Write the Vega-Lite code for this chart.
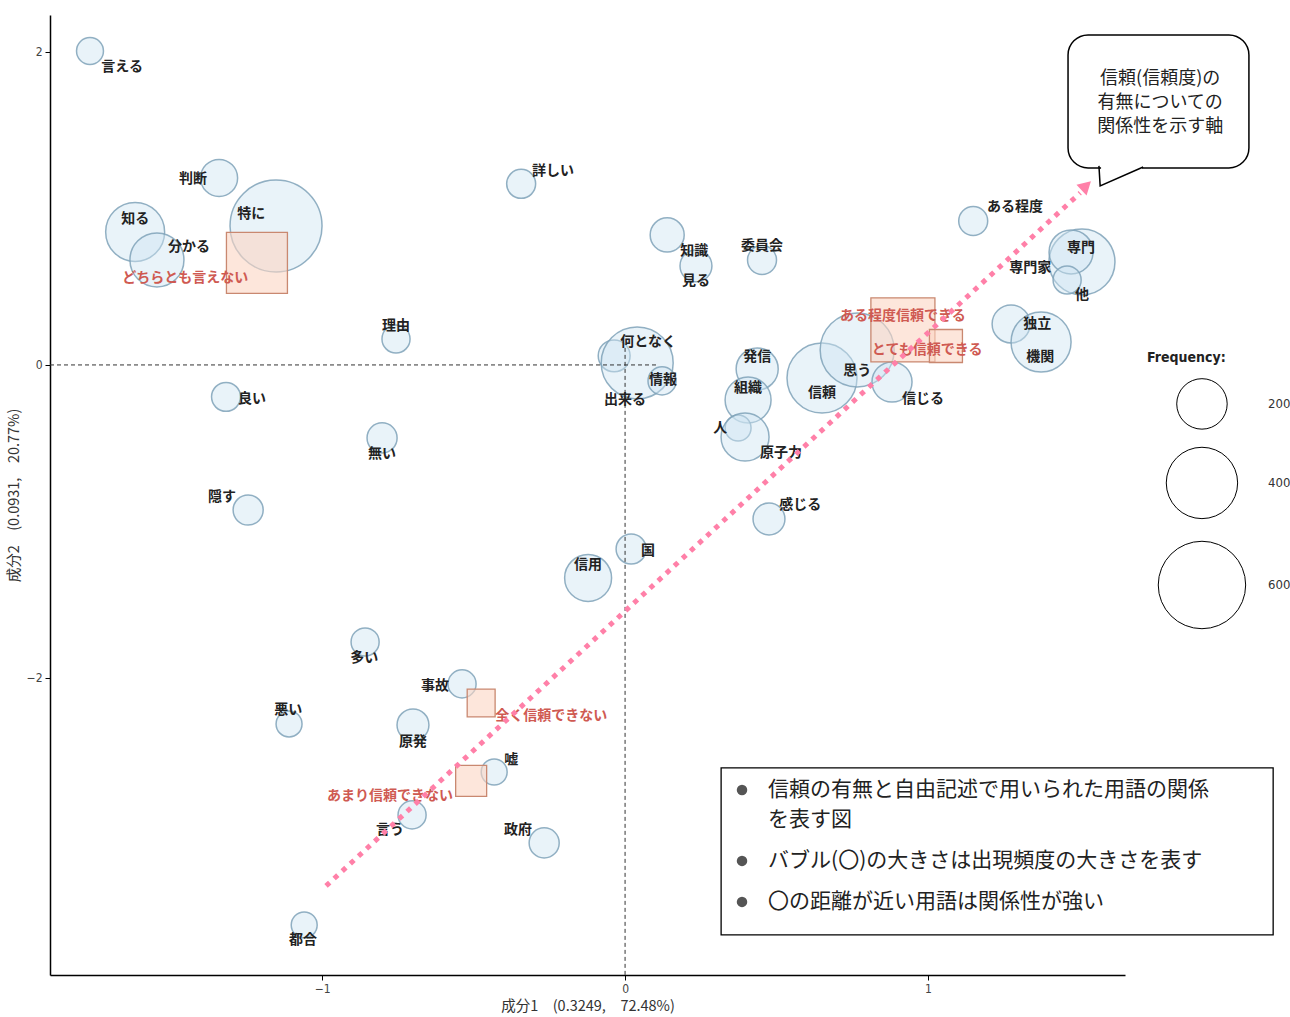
{
  "$schema": "https://vega.github.io/schema/vega-lite/v6.json",
  "width": 1075,
  "height": 960,
  "autosize": {"type": "none"},
  "padding": {"left": 50, "top": 15, "right": 165, "bottom": 42},
  "background": "white",
  "config": {
    "view": {"stroke": null},
    "font": "Noto Sans CJK JP",
    "axis": {
      "grid": false,
      "domainColor": "#000000",
      "domainWidth": 1.5,
      "tickColor": "#000000",
      "tickSize": 5,
      "labelFont": "DejaVu Sans Condensed",
      "labelFontSize": 12,
      "labelColor": "#444444",
      "titleFont": "Noto Sans CJK JP",
      "titleFontSize": 14.5,
      "titleFontWeight": "normal",
      "titleColor": "#333333"
    }
  },
  "datasets": {
    "words": [
      {"word": "言える", "x": -1.766, "y": 2.006, "freq": 57},
      {"word": "判断", "x": -1.340, "y": 1.195, "freq": 108},
      {"word": "特に", "x": -1.152, "y": 0.888, "freq": 665},
      {"word": "知る", "x": -1.617, "y": 0.850, "freq": 273},
      {"word": "分かる", "x": -1.545, "y": 0.671, "freq": 229},
      {"word": "詳しい", "x": -0.343, "y": 1.157, "freq": 66},
      {"word": "知識", "x": 0.139, "y": 0.831, "freq": 91},
      {"word": "見る", "x": 0.234, "y": 0.633, "freq": 80},
      {"word": "委員会", "x": 0.452, "y": 0.671, "freq": 66},
      {"word": "理由", "x": -0.756, "y": 0.166, "freq": 62},
      {"word": "何となく", "x": -0.036, "y": 0.058, "freq": 80},
      {"word": "出来る", "x": 0.040, "y": 0.013, "freq": 407},
      {"word": "情報", "x": 0.122, "y": -0.102, "freq": 62},
      {"word": "発信", "x": 0.436, "y": -0.026, "freq": 139},
      {"word": "組織", "x": 0.406, "y": -0.224, "freq": 166},
      {"word": "人", "x": 0.373, "y": -0.403, "freq": 53},
      {"word": "原子力", "x": 0.396, "y": -0.460, "freq": 181},
      {"word": "信頼", "x": 0.650, "y": -0.083, "freq": 385},
      {"word": "思う", "x": 0.766, "y": 0.096, "freq": 430},
      {"word": "信じる", "x": 0.881, "y": -0.109, "freq": 126},
      {"word": "ある程度", "x": 1.149, "y": 0.920, "freq": 66},
      {"word": "専門", "x": 1.508, "y": 0.658, "freq": 342},
      {"word": "専門家", "x": 1.472, "y": 0.722, "freq": 152},
      {"word": "他", "x": 1.459, "y": 0.543, "freq": 62},
      {"word": "独立", "x": 1.274, "y": 0.262, "freq": 113},
      {"word": "機関", "x": 1.373, "y": 0.147, "freq": 283},
      {"word": "良い", "x": -1.317, "y": -0.204, "freq": 66},
      {"word": "無い", "x": -0.802, "y": -0.466, "freq": 71},
      {"word": "隠す", "x": -1.244, "y": -0.927, "freq": 71},
      {"word": "多い", "x": -0.858, "y": -1.770, "freq": 62},
      {"word": "事故", "x": -0.538, "y": -2.038, "freq": 62},
      {"word": "悪い", "x": -1.109, "y": -2.294, "freq": 53},
      {"word": "原発", "x": -0.700, "y": -2.300, "freq": 80},
      {"word": "嘘", "x": -0.432, "y": -2.601, "freq": 53},
      {"word": "言う", "x": -0.703, "y": -2.875, "freq": 62},
      {"word": "政府", "x": -0.267, "y": -3.054, "freq": 71},
      {"word": "都合", "x": -1.059, "y": -3.578, "freq": 53},
      {"word": "信用", "x": -0.122, "y": -1.361, "freq": 173},
      {"word": "国", "x": 0.020, "y": -1.176, "freq": 71},
      {"word": "感じる", "x": 0.475, "y": -0.984, "freq": 80}
    ],
    "vars": [
      {"word": "どちらとも言えない", "x": -1.215, "y": 0.652, "freq": 372},
      {"word": "ある程度信頼できる", "x": 0.917, "y": 0.224, "freq": 410},
      {"word": "とても信頼できる", "x": 1.059, "y": 0.121, "freq": 109},
      {"word": "全く信頼できない", "x": -0.475, "y": -2.160, "freq": 78},
      {"word": "あまり信頼できない", "x": -0.508, "y": -2.658, "freq": 96}
    ],
    "labels": [
      {"word": "言える", "lx": -1.660, "ly": 1.904, "type": "word"},
      {"word": "判断", "lx": -1.426, "ly": 1.188, "type": "word"},
      {"word": "特に", "lx": -1.234, "ly": 0.965, "type": "word"},
      {"word": "知る", "lx": -1.617, "ly": 0.933, "type": "word"},
      {"word": "分かる", "lx": -1.439, "ly": 0.754, "type": "word"},
      {"word": "どちらとも言えない", "lx": -1.452, "ly": 0.556, "type": "var"},
      {"word": "詳しい", "lx": -0.238, "ly": 1.240, "type": "word"},
      {"word": "知識", "lx": 0.228, "ly": 0.728, "type": "word"},
      {"word": "見る", "lx": 0.234, "ly": 0.537, "type": "word"},
      {"word": "委員会", "lx": 0.452, "ly": 0.760, "type": "word"},
      {"word": "理由", "lx": -0.756, "ly": 0.249, "type": "word"},
      {"word": "何となく", "lx": 0.076, "ly": 0.147, "type": "word"},
      {"word": "出来る", "lx": 0.000, "ly": -0.224, "type": "word"},
      {"word": "情報", "lx": 0.125, "ly": -0.096, "type": "word"},
      {"word": "発信", "lx": 0.436, "ly": 0.051, "type": "word"},
      {"word": "組織", "lx": 0.406, "ly": -0.147, "type": "word"},
      {"word": "人", "lx": 0.314, "ly": -0.403, "type": "word"},
      {"word": "原子力", "lx": 0.515, "ly": -0.562, "type": "word"},
      {"word": "信頼", "lx": 0.650, "ly": -0.179, "type": "word"},
      {"word": "思う", "lx": 0.766, "ly": -0.038, "type": "word"},
      {"word": "信じる", "lx": 0.983, "ly": -0.217, "type": "word"},
      {"word": "ある程度", "lx": 1.287, "ly": 1.010, "type": "word"},
      {"word": "専門", "lx": 1.505, "ly": 0.748, "type": "word"},
      {"word": "専門家", "lx": 1.337, "ly": 0.620, "type": "word"},
      {"word": "他", "lx": 1.508, "ly": 0.447, "type": "word"},
      {"word": "独立", "lx": 1.360, "ly": 0.262, "type": "word"},
      {"word": "機関", "lx": 1.370, "ly": 0.051, "type": "word"},
      {"word": "ある程度信頼できる", "lx": 0.917, "ly": 0.313, "type": "var"},
      {"word": "とても信頼できる", "lx": 0.997, "ly": 0.096, "type": "var"},
      {"word": "良い", "lx": -1.231, "ly": -0.217, "type": "word"},
      {"word": "無い", "lx": -0.802, "ly": -0.569, "type": "word"},
      {"word": "隠す", "lx": -1.330, "ly": -0.843, "type": "word"},
      {"word": "多い", "lx": -0.861, "ly": -1.872, "type": "word"},
      {"word": "事故", "lx": -0.627, "ly": -2.051, "type": "word"},
      {"word": "悪い", "lx": -1.112, "ly": -2.204, "type": "word"},
      {"word": "原発", "lx": -0.700, "ly": -2.409, "type": "word"},
      {"word": "嘘", "lx": -0.376, "ly": -2.524, "type": "word"},
      {"word": "言う", "lx": -0.776, "ly": -2.971, "type": "word"},
      {"word": "政府", "lx": -0.353, "ly": -2.971, "type": "word"},
      {"word": "都合", "lx": -1.063, "ly": -3.674, "type": "word"},
      {"word": "信用", "lx": -0.122, "ly": -1.278, "type": "word"},
      {"word": "国", "lx": 0.076, "ly": -1.188, "type": "word"},
      {"word": "感じる", "lx": 0.578, "ly": -0.895, "type": "word"},
      {"word": "全く信頼できない", "lx": -0.244, "ly": -2.243, "type": "var"},
      {"word": "あまり信頼できない", "lx": -0.776, "ly": -2.754, "type": "var"}
    ],
    "legendItems": [
      {"freq": 200, "x": 1.904, "y": -0.249, "lx": 2.122, "label": "200"},
      {"freq": 400, "x": 1.904, "y": -0.754, "lx": 2.122, "label": "400"},
      {"freq": 600, "x": 1.904, "y": -1.406, "lx": 2.122, "label": "600"}
    ],
    "notes": [
      {"text": "信頼の有無と自由記述で用いられた用語の関係", "x": 0.472, "y": -2.716},
      {"text": "を表す図", "x": 0.472, "y": -2.907},
      {"text": "バブル(〇)の大きさは出現頻度の大きさを表す", "x": 0.472, "y": -3.169},
      {"text": "〇の距離が近い用語は関係性が強い", "x": 0.472, "y": -3.431}
    ],
    "bullets": [
      {"x": 0.386, "y": -2.716},
      {"x": 0.386, "y": -3.169},
      {"x": 0.386, "y": -3.431}
    ],
    "callout": [
      {"text": "信頼(信頼度)の", "x": 1.766, "y": 1.827},
      {"text": "有無についての", "x": 1.766, "y": 1.674},
      {"text": "関係性を示す軸", "x": 1.766, "y": 1.521}
    ]
  },
  "layer": [
    {
      "data": {"name": "words"},
      "mark": {"type": "point", "shape": "circle", "filled": true, "fill": "#cfe5f2", "fillOpacity": 0.45, "stroke": "#7fa2b8", "strokeWidth": 1.5, "strokeOpacity": 0.85},
      "encoding": {
        "x": {"field": "x", "type": "quantitative", "scale": {"domain": [-1.898, 1.65], "nice": false, "zero": false}, "axis": {"values": [-1, 0, 1], "format": "d", "title": "成分1　(0.3249,　72.48%)", "titlePadding": 5, "labelPadding": 3}},
        "y": {"field": "y", "type": "quantitative", "scale": {"domain": [-3.898, 2.236], "nice": false, "zero": false}, "axis": {"values": [-2, 0, 2], "format": "d", "title": "成分2　(0.0931,　20.77%)", "titlePadding": 5, "labelPadding": 3}},
        "size": {"field": "freq", "type": "quantitative", "scale": {"type": "linear", "domain": [0, 600], "range": [0, 7639], "zero": true}, "legend": null}
      }
    },
    {
      "data": {"values": [{"x": -1.898, "x2": 0.106, "y": 0, "y2": 0}, {"x": 0, "x2": 0, "y": 0.109, "y2": -3.898}]},
      "mark": {"type": "rule", "strokeDash": [4, 3], "color": "#333333", "strokeWidth": 1},
      "encoding": {
        "x": {"field": "x", "type": "quantitative", "scale": {"domain": [-1.898, 1.65], "nice": false, "zero": false}},
        "x2": {"field": "x2"},
        "y": {"field": "y", "type": "quantitative", "scale": {"domain": [-3.898, 2.236], "nice": false, "zero": false}},
        "y2": {"field": "y2"}
      }
    },
    {
      "data": {"name": "vars"},
      "mark": {"type": "point", "shape": "square", "filled": true, "fill": "#fbd5c3", "fillOpacity": 0.6, "stroke": "#c98870", "strokeWidth": 1.3},
      "encoding": {
        "x": {"field": "x", "type": "quantitative", "scale": {"domain": [-1.898, 1.65], "nice": false, "zero": false}},
        "y": {"field": "y", "type": "quantitative", "scale": {"domain": [-3.898, 2.236], "nice": false, "zero": false}},
        "size": {"field": "freq", "type": "quantitative", "scale": {"type": "linear", "domain": [0, 600], "range": [0, 6000], "zero": true}, "legend": null}
      }
    },
    {
      "data": {"name": "labels"},
      "mark": {"type": "text", "fontSize": 14, "font": "Noto Sans CJK JP", "fontWeight": "bold", "baseline": "middle", "align": "center"},
      "encoding": {
        "x": {"field": "lx", "type": "quantitative", "scale": {"domain": [-1.898, 1.65], "nice": false, "zero": false}},
        "y": {"field": "ly", "type": "quantitative", "scale": {"domain": [-3.898, 2.236], "nice": false, "zero": false}},
        "text": {"field": "word", "type": "nominal"},
        "color": {"field": "type", "type": "nominal", "scale": {"domain": ["word", "var"], "range": ["#222222", "#cf5a52"]}, "legend": null}
      }
    },
    {
      "data": {"name": "legendItems"},
      "mark": {"type": "point", "shape": "circle", "filled": false, "stroke": "#000000", "strokeWidth": 1, "opacity": 1},
      "encoding": {
        "x": {"field": "x", "type": "quantitative", "scale": {"domain": [-1.898, 1.65], "nice": false, "zero": false}},
        "y": {"field": "y", "type": "quantitative", "scale": {"domain": [-3.898, 2.236], "nice": false, "zero": false}},
        "size": {"field": "freq", "type": "quantitative", "scale": {"type": "linear", "domain": [0, 600], "range": [0, 7639], "zero": true}, "legend": null}
      }
    },
    {
      "data": {"name": "legendItems"},
      "mark": {"type": "text", "font": "DejaVu Sans Condensed", "fontSize": 13, "color": "#333333", "align": "left", "baseline": "middle"},
      "encoding": {
        "x": {"field": "lx", "type": "quantitative", "scale": {"domain": [-1.898, 1.65], "nice": false, "zero": false}},
        "y": {"field": "y", "type": "quantitative", "scale": {"domain": [-3.898, 2.236], "nice": false, "zero": false}},
        "text": {"field": "label", "type": "nominal"}
      }
    },
    {
      "data": {"values": [{"x": 1.723, "y": 0.045, "t": "Frequency:"}]},
      "mark": {"type": "text", "font": "DejaVu Sans Condensed", "fontSize": 14, "fontWeight": "bold", "color": "#222222", "align": "left", "baseline": "middle"},
      "encoding": {
        "x": {"field": "x", "type": "quantitative", "scale": {"domain": [-1.898, 1.65], "nice": false, "zero": false}},
        "y": {"field": "y", "type": "quantitative", "scale": {"domain": [-3.898, 2.236], "nice": false, "zero": false}},
        "text": {"field": "t", "type": "nominal"}
      }
    },
    {
      "data": {"values": [{"x": -0.987, "y": -3.329, "x2": 1.502, "y2": 1.099}]},
      "mark": {"type": "rule", "color": "#ff80a8", "strokeWidth": 5, "strokeDash": [5, 6], "strokeCap": "butt"},
      "encoding": {
        "x": {"field": "x", "type": "quantitative", "scale": {"domain": [-1.898, 1.65], "nice": false, "zero": false}},
        "x2": {"field": "x2"},
        "y": {"field": "y", "type": "quantitative", "scale": {"domain": [-3.898, 2.236], "nice": false, "zero": false}},
        "y2": {"field": "y2"}
      }
    },
    {
      "data": {"values": [{"x": 1.522, "y": 1.145}]},
      "mark": {"type": "point", "shape": "triangle-up", "angle": 47, "size": 220, "filled": true, "color": "#ff80a8", "opacity": 1},
      "encoding": {
        "x": {"field": "x", "type": "quantitative", "scale": {"domain": [-1.898, 1.65], "nice": false, "zero": false}},
        "y": {"field": "y", "type": "quantitative", "scale": {"domain": [-3.898, 2.236], "nice": false, "zero": false}}
      }
    },
    {
      "data": {"values": [{"x": 1.462, "x2": 2.059, "y": 2.109, "y2": 1.259}]},
      "mark": {"type": "rect", "fill": "white", "stroke": "#000000", "strokeWidth": 1.5, "cornerRadius": 20},
      "encoding": {
        "x": {"field": "x", "type": "quantitative", "scale": {"domain": [-1.898, 1.65], "nice": false, "zero": false}},
        "x2": {"field": "x2"},
        "y": {"field": "y", "type": "quantitative", "scale": {"domain": [-3.898, 2.236], "nice": false, "zero": false}},
        "y2": {"field": "y2"}
      }
    },
    {
      "data": {"values": [{"x": 1.571, "x2": 1.706, "y": 1.259, "y2": 1.259}]},
      "mark": {"type": "rule", "color": "white", "strokeWidth": 4},
      "encoding": {
        "x": {"field": "x", "type": "quantitative", "scale": {"domain": [-1.898, 1.65], "nice": false, "zero": false}},
        "x2": {"field": "x2"},
        "y": {"field": "y", "type": "quantitative", "scale": {"domain": [-3.898, 2.236], "nice": false, "zero": false}},
        "y2": {"field": "y2"}
      }
    },
    {
      "data": {"values": [{"x": 1.564, "y": 1.272, "o": 1}, {"x": 1.568, "y": 1.144, "o": 2}, {"x": 1.710, "y": 1.265, "o": 3}]},
      "mark": {"type": "line", "color": "#000000", "strokeWidth": 1.5},
      "encoding": {
        "x": {"field": "x", "type": "quantitative", "scale": {"domain": [-1.898, 1.65], "nice": false, "zero": false}},
        "y": {"field": "y", "type": "quantitative", "scale": {"domain": [-3.898, 2.236], "nice": false, "zero": false}},
        "order": {"field": "o", "type": "quantitative"}
      }
    },
    {
      "data": {"name": "callout"},
      "mark": {"type": "text", "fontSize": 18, "font": "Noto Sans CJK JP", "color": "#222222", "align": "center", "baseline": "middle"},
      "encoding": {
        "x": {"field": "x", "type": "quantitative", "scale": {"domain": [-1.898, 1.65], "nice": false, "zero": false}},
        "y": {"field": "y", "type": "quantitative", "scale": {"domain": [-3.898, 2.236], "nice": false, "zero": false}},
        "text": {"field": "text", "type": "nominal"}
      }
    },
    {
      "data": {"values": [{"x": 0.317, "x2": 2.139, "y": -2.575, "y2": -3.642}]},
      "mark": {"type": "rect", "fill": "white", "stroke": "#000000", "strokeWidth": 1.3},
      "encoding": {
        "x": {"field": "x", "type": "quantitative", "scale": {"domain": [-1.898, 1.65], "nice": false, "zero": false}},
        "x2": {"field": "x2"},
        "y": {"field": "y", "type": "quantitative", "scale": {"domain": [-3.898, 2.236], "nice": false, "zero": false}},
        "y2": {"field": "y2"}
      }
    },
    {
      "data": {"name": "bullets"},
      "mark": {"type": "point", "shape": "circle", "filled": true, "color": "#555555", "size": 110, "opacity": 1},
      "encoding": {
        "x": {"field": "x", "type": "quantitative", "scale": {"domain": [-1.898, 1.65], "nice": false, "zero": false}},
        "y": {"field": "y", "type": "quantitative", "scale": {"domain": [-3.898, 2.236], "nice": false, "zero": false}}
      }
    },
    {
      "data": {"name": "notes"},
      "mark": {"type": "text", "fontSize": 21, "font": "Noto Sans CJK JP", "color": "#222222", "align": "left", "baseline": "middle"},
      "encoding": {
        "x": {"field": "x", "type": "quantitative", "scale": {"domain": [-1.898, 1.65], "nice": false, "zero": false}},
        "y": {"field": "y", "type": "quantitative", "scale": {"domain": [-3.898, 2.236], "nice": false, "zero": false}},
        "text": {"field": "text", "type": "nominal"}
      }
    }
  ],
  "resolve": {"scale": {"size": "independent", "color": "independent"}}
}
